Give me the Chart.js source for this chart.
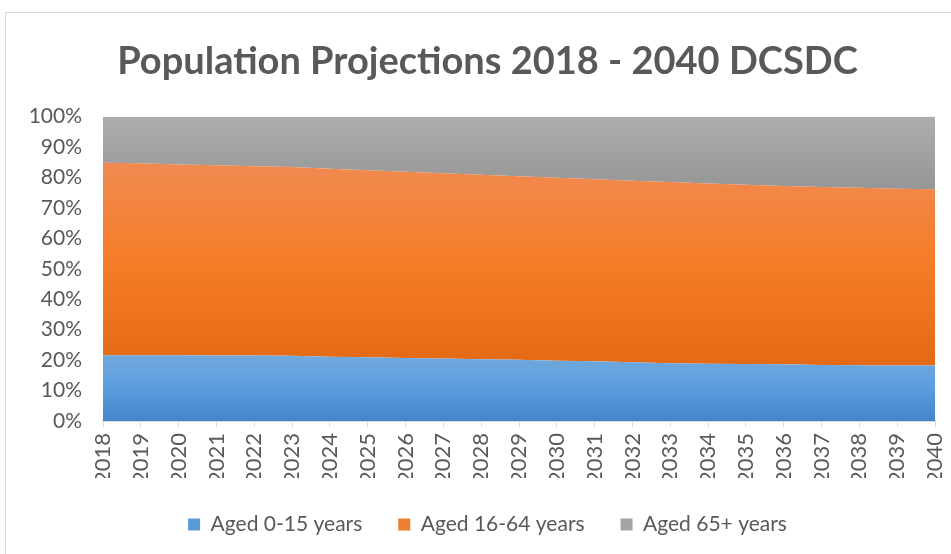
<!DOCTYPE html>
<html>
<head>
<meta charset="utf-8">
<script src="https://cdn.jsdelivr.net/npm/chart.js@4.4.1/dist/chart.umd.min.js"></script>
<style>
  html, body { margin: 0; padding: 0; background: #fff; }
  #wrap { position: relative; width: 951px; height: 554px; overflow: hidden; }
  #frame { position: absolute; left: 5px; top: 12px; width: 980px; height: 600px; border: 1px solid #d9d9d9; box-sizing: border-box; }
  #c { position: absolute; left: 0; top: 0; }
</style>
</head>
<body>
<div id="wrap">
  <div id="frame"></div>
  <canvas id="c" width="975" height="554"></canvas>
</div>
<script>
const years = ['2018','2019','2020','2021','2022','2023','2024','2025','2026','2027','2028','2029','2030','2031','2032','2033','2034','2035','2036','2037','2038','2039','2040'];
// Shares of total population (%)
const aged0to15  = [21.6,21.6,21.6,21.5,21.5,21.4,21.1,20.9,20.7,20.5,20.3,20.1,19.8,19.6,19.3,19.0,18.8,18.7,18.6,18.4,18.3,18.2,18.2];
const aged16to64 = [63.2,63.1,62.7,62.5,62.2,62.0,61.8,61.5,61.2,60.9,60.6,60.3,60.1,59.8,59.6,59.5,59.2,58.9,58.6,58.5,58.3,58.1,57.9];
const aged65plus = [15.2,15.3,15.7,16.0,16.3,16.6,17.1,17.6,18.1,18.6,19.1,19.6,20.1,20.6,21.1,21.5,22.0,22.4,22.8,23.1,23.4,23.7,23.9];
const yTicks = [0,10,20,30,40,50,60,70,80,90,100];
const seriesNames = ['Aged 0-15 years','Aged 16-64 years','Aged 65+ years'];

const FONT = 'Lato';
const TXT = '#595959';

const cumWork = aged0to15.map((v,i)=>v+aged16to64[i]);

function grad(stops, topVal, botVal, fallback){
  return (c) => {
    const ch = c.chart;
    const y = ch.scales && ch.scales.y;
    if (!ch.chartArea || !y) return fallback;
    const t = y.getPixelForValue(topVal), b = y.getPixelForValue(botVal);
    if (!isFinite(t) || !isFinite(b)) return fallback;
    const g = ch.ctx.createLinearGradient(0, t, 0, b);
    stops.forEach(s => g.addColorStop(s[0], s[1]));
    return g;
  };
}

const solid = ['#5b9bd5','#ed7d31','#a5a5a5'];

new Chart(document.getElementById('c'), {
  type: 'line',
  data: {
    labels: years,
    datasets: [
      { label: seriesNames[0], data: aged0to15, fill: 'origin', borderWidth: 0, pointRadius: 0,
        backgroundColor: grad([[0,'#72a9dd'],[0.5,'#5c9ddf'],[1,'#4384cb']], Math.max(...aged0to15), 0, solid[0]) },
      { label: seriesNames[1], data: aged16to64, fill: '-1', borderWidth: 0, pointRadius: 0,
        backgroundColor: grad([[0,'#f08a51'],[0.5,'#f57c27'],[1,'#e46915']], Math.max(...cumWork), Math.min(...aged0to15), solid[1]) },
      { label: seriesNames[2], data: aged65plus, fill: '-1', borderWidth: 0, pointRadius: 0,
        backgroundColor: grad([[0,'#adadad'],[1,'#969696']], 100, Math.min(...cumWork), solid[2]) }
    ]
  },
  options: {
    responsive: false,
    animation: false,
    events: [],
    layout: { padding: { left: 0, right: 0, top: 0, bottom: 9 } },
    plugins: {
      title: {
        display: true,
        text: 'Population Projections 2018 - 2040 DCSDC',
        color: TXT,
        font: { family: FONT, size: 38, weight: 'bold' },
        padding: { top: 39, bottom: 32 }
      },
      legend: {
        position: 'bottom',
        labels: {
          color: TXT,
          font: { family: FONT, size: 21 },
          boxWidth: 12, boxHeight: 12,
          padding: 36,
          generateLabels: (chart) => chart.data.datasets.map((d,i) => ({
            text: d.label, fillStyle: solid[i], strokeStyle: solid[i], lineWidth: 0, datasetIndex: i, fontColor: TXT
          }))
        }
      },
      tooltip: { enabled: false }
    },
    scales: {
      x: {
        type: 'category',
        offset: false,
        afterFit: (s) => { s.paddingRight = 40; s.paddingLeft = 0; s.height = s.height - 12; },
        grid: { display: true, drawOnChartArea: false, tickLength: 6, color: '#d9d9d9' },
        border: { display: true, color: '#d9d9d9', width: 2 },
        ticks: { color: TXT, font: { family: FONT, size: 22 }, minRotation: 90, maxRotation: 90, padding: 6, autoSkip: false }
      },
      y: {
        stacked: true,
        min: 0, max: 100,
        afterBuildTicks: (s) => { s.ticks = yTicks.map(v => ({ value: v })); },
        afterFit: (s) => { s.width = 103; },
        grid: { display: false, drawTicks: false },
        border: { display: false },
        ticks: { color: TXT, font: { family: FONT, size: 21 }, padding: 21, callback: (v) => v + '%' }
      }
    }
  }
});
</script>
</body>
</html>
